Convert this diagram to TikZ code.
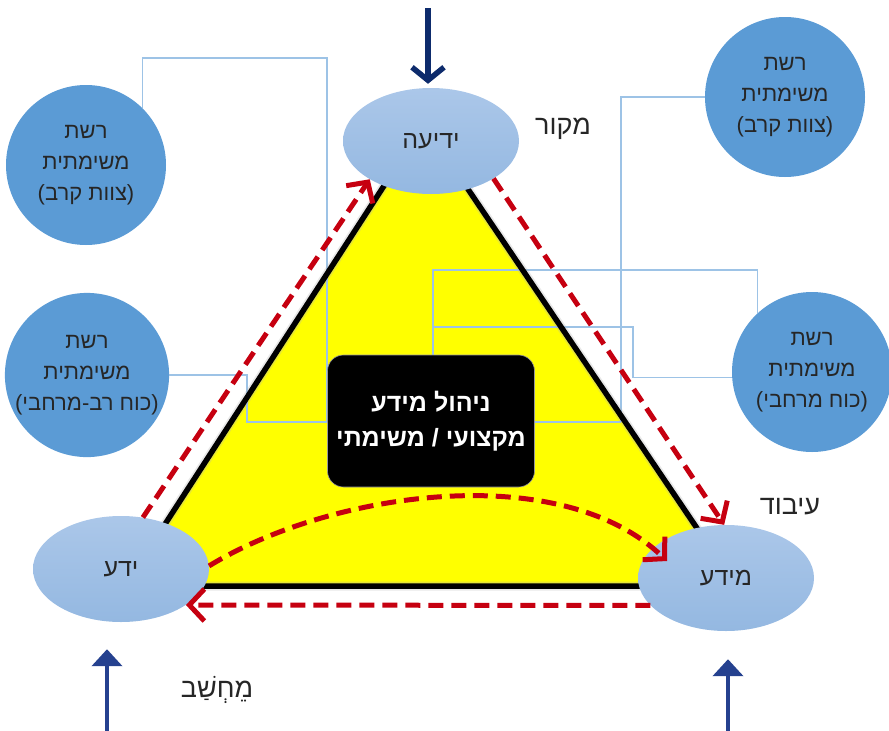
\documentclass[tikz,border=0pt]{standalone}
\usepackage{fontspec}
\setmainfont{Liberation Sans}
\newfontfamily\heb[Script=Hebrew]{Liberation Sans}
\TeXXeTstate=1
\usetikzlibrary{arrows.meta,shapes.geometric,calc}

\definecolor{netblue}{HTML}{5B9BD5}
\definecolor{ovaltop}{HTML}{ABC7E9}
\definecolor{ovalbot}{HTML}{94B8E1}
\definecolor{flowred}{HTML}{C60010}
\definecolor{linkblue}{HTML}{9DC3E6}
\definecolor{navyin}{HTML}{0D2B6C}
\definecolor{bluein}{HTML}{25418F}
\definecolor{triyellow}{HTML}{FFFF00}

% one right-to-left line of Hebrew
\newcommand{\hebline}[1]{\beginR #1\endR}

\tikzset{
  netcircle/.style={circle, fill=netblue, minimum size=160pt, inner sep=0pt,
    align=center, text=black!85, font=\heb\fontsize{22}{31}\selectfont},
  oval/.style={ellipse, minimum width=176pt, minimum height=106pt, inner sep=0pt,
    top color=ovaltop, bottom color=ovalbot, text=black!85,
    font=\heb\fontsize{25}{30}\selectfont},
  link/.style={draw=linkblue, line width=1.2pt},
  flow/.style={draw=flowred, line width=5pt, dash pattern=on 15pt off 8pt,
    -{Straight Barb[length=15pt,width=32pt,line width=5pt]}},
  inarrow/.style={draw=bluein, line width=4.5pt,
    -{Triangle[length=17pt,width=30pt]}},
  topin/.style={draw=navyin, line width=6pt,
    -{Straight Barb[length=13pt,width=32pt,line width=5.5pt]}},
  sidelabel/.style={text=black!85, font=\heb\fontsize{27}{32}\selectfont},
}

\begin{document}
\begin{tikzpicture}[x=1pt,y=-1pt]
\useasboundingbox (0,0) rectangle (889,731);

% triangle body
\coordinate (apex) at (424,124);
\coordinate (baseL) at (125,586);
\coordinate (baseR) at (736,586);
\fill[triyellow] (apex) -- (baseL) -- (baseR) -- cycle;

% mission-network circles
\node[netcircle] (tl) at (86,165) {\hebline{רשת}\\\hebline{משימתית}\\\hebline{(צוות קרב)}};
\node[netcircle] (lm) at (87,375) {\hebline{רשת}\\\hebline{משימתית}\\\hebline{(כוח רב-מרחבי)}};
\node[netcircle] (tr) at (785,97) {\hebline{רשת}\\\hebline{משימתית}\\\hebline{(צוות קרב)}};
\node[netcircle] (rm) at (812,372) {\hebline{רשת}\\\hebline{משימתית}\\\hebline{(כוח מרחבי)}};

% bend points of the thin links
\coordinate (bendA) at (327,58);
\coordinate (bendA2) at (247,422);
\coordinate (bendB) at (621,422);
\coordinate (bendC) at (433,270);
\coordinate (bendD) at (633,327);
\coordinate (mgmtc) at (431,421);

% thin links between the circles and the centre
\draw[link] (tl.45) |- (bendA) |- (bendA2) |- (lm.east);
\draw[link] (bendA2 |- bendB) -- (bendB);
\draw[link] (tr.west) -| (bendB);
\draw[link] (rm.133.5) |- (bendC) -- (bendC |- 0,355);
\draw[link] (rm.184) -| (bendD) -- (bendC |- bendD);

% triangle outline with a soft rim
\draw[black!30, line width=9pt, line join=miter, opacity=0.3] (apex) -- (baseL) -- (baseR) -- cycle;
\draw[black, line width=5.5pt, line join=miter] (apex) -- (baseL) -- (baseR) -- cycle;

% corner ovals
\node[oval] (info) at (431,141) {\hebline{ידיעה}};
\node[oval] (know) at (121,569) {\hebline{ידע}};
\node[oval] (data) at (726,578) {\hebline{מידע}};

% centre box
\node[fill=black, draw=black!40, line width=0.6pt, rounded corners=16pt,
  minimum width=207pt, minimum height=132pt, align=center, text=white,
  font=\heb\bfseries\fontsize{25}{35}\selectfont] (mgmt) at (mgmtc)
  {\hebline{ניהול מידע}\\\hebline{מקצועי / משימתי}};

% red flow arrows around the cycle
\coordinate (curveEnd) at (667,561);
\draw[flow] (know.67) -- (info.212);
\draw[flow] (info.329) -- (data.92);
\draw[flow] (data.200) -- (know.331);
\draw[flow] (know.2) .. controls (330,492) and (560,458) .. (curveEnd);

% external inputs
\coordinate (srcTop) at (428,8);
\coordinate (srcKnow) at (107,731);
\coordinate (srcData) at (728,731);
\draw[topin, shorten >=4pt] (srcTop) -- (srcTop |- info.north);
\draw[inarrow, shorten >=27pt] (srcKnow) -- (srcKnow |- know.south);
\draw[inarrow, shorten >=28pt] (srcData) -- (srcData |- data.south);

% stage labels
\node[sidelabel] (lblsrc) at (563,129) {\hebline{מקור}};
\node[sidelabel] (lblproc) at (790,507) {\hebline{עיבוד}};
\node[sidelabel] (lblcomp) at (217,690) {\hebline{מֵחְשַׁב}};
\end{tikzpicture}
\end{document}
